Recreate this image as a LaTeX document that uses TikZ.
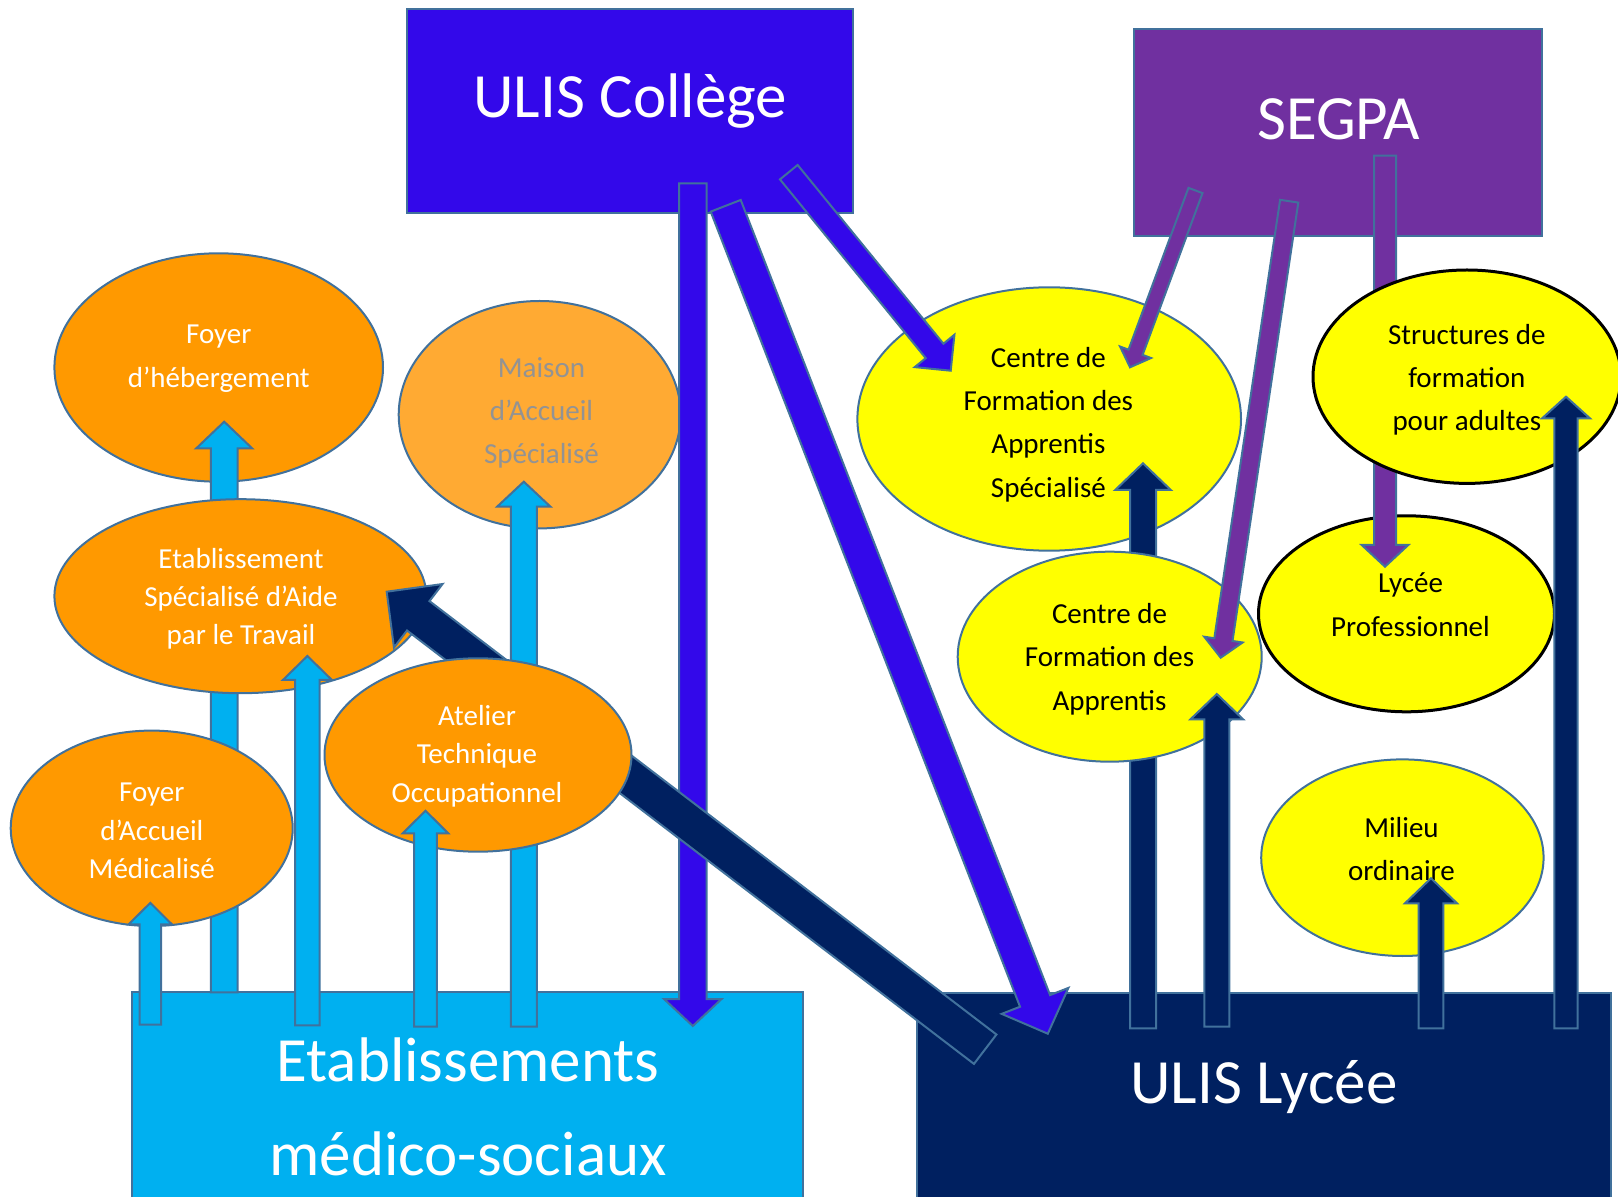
\documentclass[tikz,border=0pt]{standalone}
\usepackage{fontspec}
\setmainfont{Carlito}
\usetikzlibrary{calc,shapes.geometric}
\definecolor{cOrange}{HTML}{FF9900}
\definecolor{cOrangeL}{HTML}{FFAA33}
\definecolor{cSky}{HTML}{00B0F0}
\definecolor{cBlue}{HTML}{3308EA}
\definecolor{cPurple}{HTML}{7030A0}
\definecolor{cNavy}{HTML}{002060}
\definecolor{cYellow}{HTML}{FFFF00}
\definecolor{cLine}{HTML}{41719C}
\definecolor{cGrayText}{HTML}{939393}
% block arrow: #1 style, #2 tail, #3 tip, #4 shaft half width, #5 head half width, #6 head length (px)
\newcommand{\blockarrow}[6]{%
  \coordinate (ba-hb) at ($(#3)!#6*0.5pt!(#2)$);
  \path[#1]
    ($(#2)!#4*0.5pt!90:(#3)$) --
    ($(ba-hb)!#4*0.5pt!90:(#3)$) --
    ($(ba-hb)!#5*0.5pt!90:(#3)$) --
    (#3) --
    ($(ba-hb)!#5*0.5pt!-90:(#3)$) --
    ($(ba-hb)!#4*0.5pt!-90:(#3)$) --
    ($(#2)!#4*0.5pt!-90:(#3)$) -- cycle;
}
\begin{document}
\begin{tikzpicture}[x=0.5pt,y=-0.5pt,
  box/.style={rectangle, draw=cLine, line width=1pt, anchor=north west, inner sep=0pt, outer sep=0pt},
  ell/.style={ellipse, draw=cLine, line width=1pt, inner sep=0pt, outer sep=0pt},
  blk/.style={draw=black, line width=1.5pt},
  arr/.style={draw=cLine, line width=1pt, line join=miter},
  bigtxt/.style={text=white, font=\fontsize{31.5}{47.1}\selectfont, inner sep=0pt, align=center},
  etxt/.style={align=center, inner sep=0pt, yshift=-1.5pt, font=\fontsize{14.5}{21.65}\selectfont},
  etxtB/.style={align=center, inner sep=0pt, yshift=-1pt, font=\fontsize{14.5}{19.2}\selectfont}]
\path[use as bounding box] (0,0) rectangle (1618,1197);
\clip (0,0) rectangle (1618,1197);

% ---------- boxes ----------
\node[box, fill=cBlue, minimum width=223.3pt, minimum height=102pt] (ulisc) at (406.7,9.3) {};
\node[box, fill=cPurple, minimum width=204pt, minimum height=103.35pt] (segpa) at (1134.3,29.3) {};
\node[box, fill=cSky, minimum width=335.35pt, minimum height=110pt] (etab) at (132,992.3) {};
\node[box, fill=cNavy, minimum width=346.75pt, minimum height=110pt] (ulisl) at (917,993) {};
\node[bigtxt, anchor=base] (ulisc-t) at (630.3,118) {ULIS Collège};
\node[bigtxt, anchor=base] (segpa-t) at (1338.7,139.5) {SEGPA};
\node[bigtxt] (etab-t) at (468,1107) {Etablissements\\médico-sociaux};
\node[bigtxt, anchor=base] (ulisl-t) at (1264,1103.3) {ULIS Lycée};

% ---------- arrow end points ----------
\coordinate (a1s) at (150.3,1024.7); \coordinate (a1e) at (150.3,902.9);
\coordinate (a2s) at (224.2,992.3);  \coordinate (a2e) at (224.2,421.7);
\coordinate (a3s) at (307.4,1025.4); \coordinate (a3e) at (307.4,656);
\coordinate (a4s) at (425.5,1026.5); \coordinate (a4e) at (425.5,810.7);
\coordinate (a5s) at (523.8,1026.5); \coordinate (a5e) at (523.8,481.7);
\coordinate (b1s) at (692.8,183.3);  \coordinate (b1e) at (692.8,1026);
\coordinate (b2s) at (725.7,205.8);  \coordinate (b2e) at (1047.8,1033.7);
\coordinate (b3s) at (788.8,172.2);  \coordinate (b3e) at (950.7,370.7);
\coordinate (p1s) at (1195.5,190.5); \coordinate (p1e) at (1130,367.3);
\coordinate (p2s) at (1289.2,201.2); \coordinate (p2e) at (1220.7,657.7);
\coordinate (p3s) at (1385,155.7);   \coordinate (p3e) at (1385,566.7);
\coordinate (n1s) at (1143,1028.3);  \coordinate (n1e) at (1143,463.3);
\coordinate (n2s) at (1216.8,1026.5);\coordinate (n2e) at (1216.8,694);
\coordinate (n3s) at (1431,1028.3);  \coordinate (n3e) at (1431,878.3);
\coordinate (n4s) at (1566,1028.3);  \coordinate (n4e) at (1566,396.7);
\coordinate (n5s) at (985.2,1049.2); \coordinate (n5e) at (386.7,591.7);

% ---------- back ellipses ----------
\node[ell, fill=cOrange, minimum width=164.3pt, minimum height=114.2pt] (fdh) at (218.7,367.5) {};
\node[etxt, text=white] (fdh-t) at (218.8,355.8) {Foyer\\d’hébergement};
\node[ell, fill=cOrangeL, minimum width=141pt, minimum height=113.7pt] (mas) at (539.7,414.7) {};
\node[etxt, text=cGrayText] (mas-t) at (541.5,410) {Maison\\d’Accueil\\Spécialisé};
\node[ell, fill=cYellow, minimum width=191.8pt, minimum height=131.7pt] (cfas) at (1049.2,419) {};
\node[etxt, text=black] (cfas-t) at (1048.4,421.5) {Centre de\\Formation des\\Apprentis\\Spécialisé};
\node[ell, blk, fill=cYellow, minimum width=148pt, minimum height=98pt] (lp) at (1406.5,613.8) {};
\node[etxt, text=black] (lp-t) at (1410.5,601.7) {Lycée\\Professionnel};

% ---------- arrows passing behind ----------
\blockarrow{arr, fill=cSky}{a2s}{a2e}{13.3}{28}{26.7}
\blockarrow{arr, fill=cSky}{a5s}{a5e}{13}{26.7}{25}
\blockarrow{arr, fill=cNavy}{n1s}{n1e}{13}{27.8}{26.7}
\blockarrow{arr, fill=cPurple}{p3s}{p3e}{11}{23.3}{21.7}
\blockarrow{arr, fill=cBlue}{b1s}{b1e}{13.8}{28.8}{27}

% ---------- middle ellipses ----------
\node[ell, fill=cOrange, minimum width=186pt, minimum height=97pt] (esat) at (240.4,596.2) {};
\node[etxtB, text=white] (esat-t) at (241,596.7) {Etablissement\\Spécialisé d’Aide\\par le Travail};
\node[ell, fill=cOrange, minimum width=141pt, minimum height=97.7pt] (fam) at (151.7,828.3) {};
\node[etxtB, text=white] (fam-t) at (151.8,829) {Foyer\\d’Accueil\\Médicalisé};

\blockarrow{arr, fill=cNavy}{n5s}{n5e}{18.5}{40}{39.7}

% ---------- front ellipses ----------
\node[ell, fill=cOrange, minimum width=153.5pt, minimum height=96.7pt] (ato) at (478,755) {};
\node[etxtB, text=white] (ato-t) at (477,754) {Atelier\\Technique\\Occupationnel};
\node[ell, fill=cYellow, minimum width=152pt, minimum height=105pt] (cfa) at (1109.7,656.7) {};
\node[etxt, text=black] (cfa-t) at (1109.5,656.2) {Centre de\\Formation des\\Apprentis};
\node[ell, blk, fill=cYellow, minimum width=154pt, minimum height=106.7pt] (sfa) at (1467,376.7) {};
\node[etxt, text=black] (sfa-t) at (1466.8,376.7) {Structures de\\formation\\pour adultes};
\node[ell, fill=cYellow, minimum width=141.2pt, minimum height=98.3pt] (mo) at (1402.4,857.7) {};
\node[etxt, text=black] (mo-t) at (1401.5,845.8) {Milieu\\ordinaire};

% ---------- front arrows ----------
\blockarrow{arr, fill=cSky}{a1s}{a1e}{10.8}{21.7}{21.5}
\blockarrow{arr, fill=cSky}{a3s}{a3e}{12.2}{24.5}{24}
\blockarrow{arr, fill=cSky}{a4s}{a4e}{11.3}{22.8}{22.7}
\blockarrow{arr, fill=cBlue}{b2s}{b2e}{16.1}{35.8}{35.2}
\blockarrow{arr, fill=cBlue}{b3s}{b3e}{11.4}{25.6}{25.5}
\blockarrow{arr, fill=cPurple}{p1s}{p1e}{7.5}{16.5}{16}
\blockarrow{arr, fill=cPurple}{p2s}{p2e}{9.2}{19.4}{18.3}
\blockarrow{arr, fill=cNavy}{n2s}{n2e}{12.5}{26.3}{25.3}
\blockarrow{arr, fill=cNavy}{n3s}{n3e}{12.3}{26}{25}
\blockarrow{arr, fill=cNavy}{n4s}{n4e}{11.7}{24}{21.7}
\end{tikzpicture}
\end{document}
